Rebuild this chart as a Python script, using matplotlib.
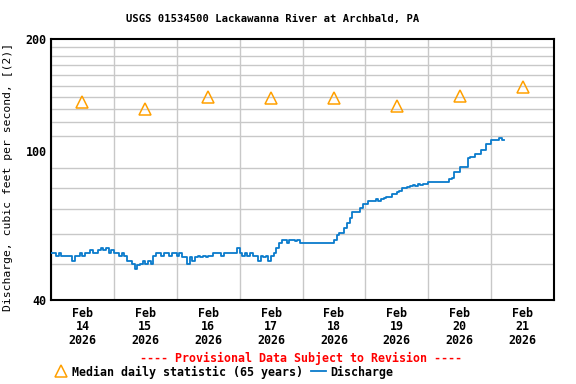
import numpy as np
import pandas as pd
import matplotlib
matplotlib.use('Agg')
import matplotlib.pyplot as plt
import matplotlib.dates as mdates
from matplotlib.ticker import NullFormatter, FixedLocator
from matplotlib.lines import Line2D

plt.rcParams['font.family'] = 'DejaVu Sans Mono'
plt.rcParams['font.weight'] = 'bold'

title = 'USGS 01534500 Lackawanna River at Archbald, PA'
ylabel = 'Discharge, cubic feet per second, [(2)]'

# hourly discharge, starting Feb 14 2026 00:00
discharge = [
    53.6, 53.6, 52.4, 53.6, 52.4, 52.4, 52.4, 52.4, 51.0, 52.4, 52.4, 53.6,
    52.4, 53.6, 53.6, 54.5, 53.6, 53.6, 54.5, 55.2, 54.5, 55.2, 53.6, 54.5,
    53.6, 53.6, 52.4, 53.6, 52.4, 51.0, 51.0, 50.0, 48.5, 49.6, 50.0, 51.0,
    50.0, 51.0, 50.0, 52.4, 53.6, 53.6, 52.4, 53.6, 53.6, 52.4, 53.6, 53.6,
    52.4, 53.6, 52.0, 52.0, 50.0, 52.0, 51.0, 52.0, 52.4, 52.0, 52.4, 52.0,
    52.4, 52.4, 53.6, 53.6, 53.6, 52.4, 53.6, 53.6, 53.6, 53.6, 53.6, 55.0,
    53.6, 52.4, 53.6, 52.4, 53.6, 52.4, 52.4, 51.0, 52.4, 52.0, 52.4, 51.0,
    52.4, 53.6, 55.2, 56.7, 58.0, 58.0, 56.7, 58.0, 58.0, 57.5, 58.0, 57.0,
    57.0, 57.0, 57.0, 57.0, 57.0, 57.0, 57.0, 57.0, 57.0, 57.0, 57.0, 57.0,
    58.0, 59.7, 60.6, 60.6, 62.5, 64.2, 66.5, 69.0, 69.0, 69.0, 70.5, 72.4,
    72.4, 73.8, 73.8, 73.8, 74.5, 73.8, 74.5, 75.0, 75.4, 75.4, 77.0, 77.0,
    78.0, 78.5, 79.7, 79.7, 80.5, 81.0, 81.5, 81.0, 82.0, 81.5, 82.0, 82.0,
    82.7, 82.7, 82.7, 82.7, 82.7, 82.7, 82.7, 82.7, 84.5, 85.0, 88.2, 88.2,
    90.6, 90.6, 90.6, 95.9, 96.8, 96.8, 98.2, 98.2, 101.0, 101.0, 104.7, 104.7,
    107.4, 107.4, 107.4, 108.5, 107.4, 107.4,
]
times = pd.date_range('2026-02-14 00:00', periods=len(discharge), freq='h')

# median daily statistic, plotted at noon
median_days = pd.date_range('2026-02-14 12:00', periods=8, freq='D')
median_vals = [136, 130, 140, 139, 139, 132, 141, 149]

fig = plt.figure(figsize=(5.76, 3.84), dpi=100)
ax = fig.add_axes([51/576, 84/384, 503/576, 261/384])

ax.plot(times, discharge, color='#0a7bcc', lw=1.3, drawstyle='steps-post', zorder=3)
ax.plot(median_days, median_vals, ls='none', marker='^', ms=8.5, mfc='none',
        mec='#ffa000', mew=1.1, zorder=4)

ax.set_yscale('log')
ax.set_ylim(40, 200)
ax.yaxis.set_major_locator(FixedLocator([40, 100, 200]))
ax.yaxis.set_minor_locator(FixedLocator(list(range(50, 200, 10))))
ax.yaxis.set_major_formatter(matplotlib.ticker.FixedFormatter(['40', '100', '200']))
ax.yaxis.set_minor_formatter(NullFormatter())

ax.set_xlim(pd.Timestamp('2026-02-14'), pd.Timestamp('2026-02-22'))
ax.xaxis.set_major_locator(mdates.HourLocator(byhour=[12]))
ax.xaxis.set_major_formatter(mdates.DateFormatter('%b\n%d\n%Y'))
ax.xaxis.set_minor_locator(mdates.HourLocator(byhour=[0]))

ax.grid(False)
ax.grid(True, which='minor', color='#c8c8c8', lw=1)
ax.tick_params(which='both', length=0, labelsize=8.4, pad=5)
ax.tick_params(axis='y', pad=3)
for lab in ax.get_xticklabels():
    lab.set_linespacing(1.05)
for s in ax.spines.values():
    s.set_linewidth(1.5)
    s.set_color('black')

ax.set_ylabel(ylabel, fontsize=8.2)
ax.yaxis.set_label_coords(-0.075, 0.47)
fig.text(273/576, 1 - 19/384, title, ha='center', va='center', fontsize=7.6)
fig.text(301/576, 1 - 358/384, '---- Provisional Data Subject to Revision ----',
         ha='center', va='center', color='red', fontsize=8.4)

handles = [
    Line2D([], [], ls='none', marker='^', ms=8.5, mfc='none', mec='#ffa000', mew=1.1),
    Line2D([], [], color='#0a7bcc', lw=1.3),
]
fig.legend(handles, ['Median daily statistic (65 years)', 'Discharge'],
           loc='center', bbox_to_anchor=(223/576, 1 - 372/384), ncol=2,
           frameon=False, fontsize=8.4, handlelength=1.3, handletextpad=0.3,
           columnspacing=0.7, borderaxespad=0, borderpad=0)

fig.savefig('out.png', dpi=100)
